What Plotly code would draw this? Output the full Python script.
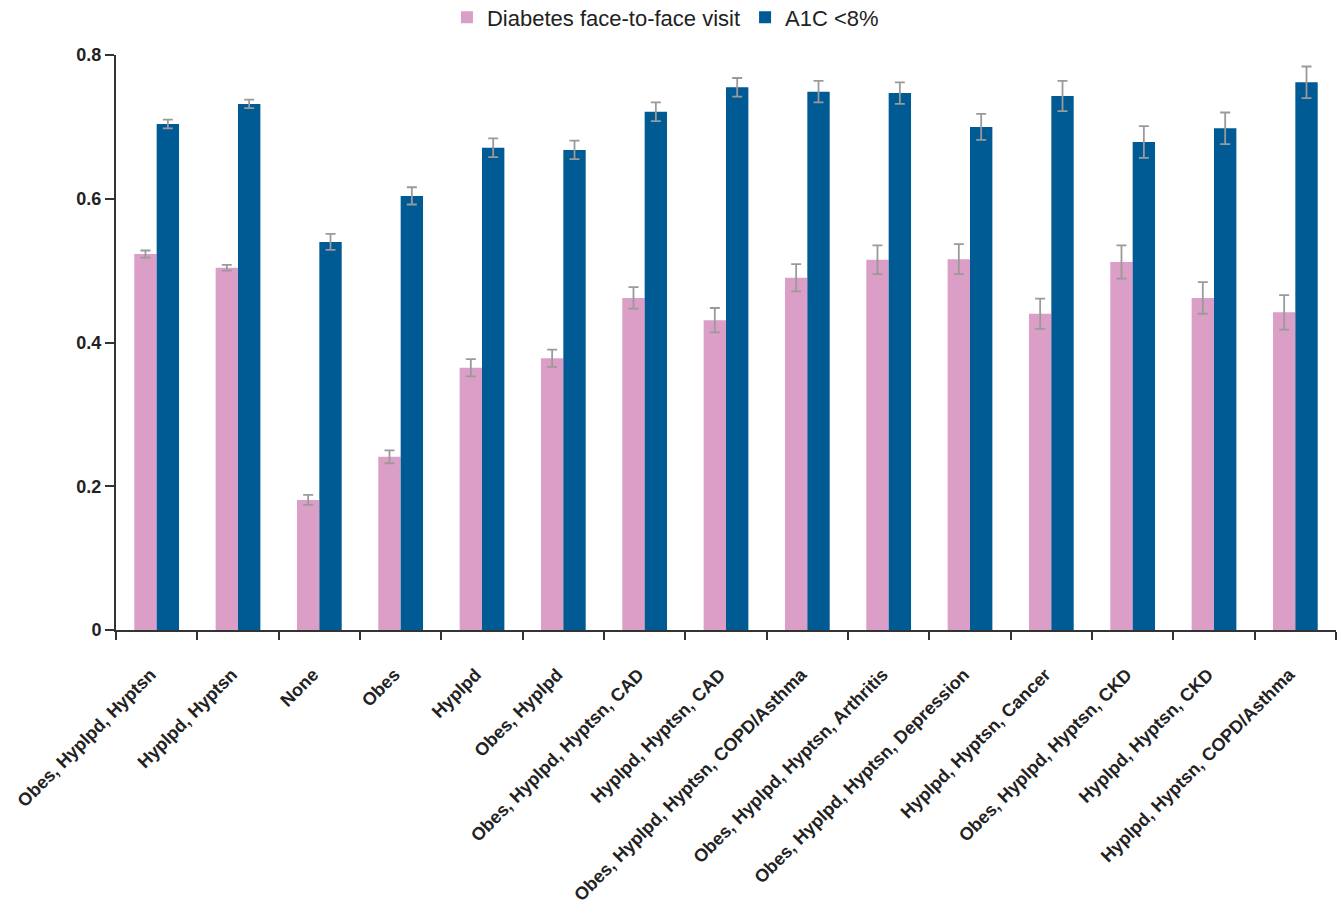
import plotly.graph_objects as go

categories = [
    "Obes, Hyplpd, Hyptsn", "Hyplpd, Hyptsn", "None", "Obes", "Hyplpd",
    "Obes, Hyplpd", "Obes, Hyplpd, Hyptsn, CAD", "Hyplpd, Hyptsn, CAD",
    "Obes, Hyplpd, Hyptsn, COPD/Asthma", "Obes, Hyplpd, Hyptsn, Arthritis",
    "Obes, Hyplpd, Hyptsn, Depression", "Hyplpd, Hyptsn, Cancer",
    "Obes, Hyplpd, Hyptsn, CKD", "Hyplpd, Hyptsn, CKD",
    "Hyplpd, Hyptsn, COPD/Asthma",
]
visit_values = [0.523, 0.504, 0.181, 0.241, 0.365, 0.378, 0.462, 0.431,
                0.490, 0.515, 0.516, 0.440, 0.512, 0.462, 0.442]
visit_err = [0.005, 0.004, 0.007, 0.009, 0.012, 0.012, 0.015, 0.017,
             0.019, 0.020, 0.021, 0.021, 0.023, 0.022, 0.024]
a1c_values = [0.704, 0.732, 0.540, 0.604, 0.671, 0.668, 0.721, 0.755,
              0.749, 0.747, 0.700, 0.743, 0.679, 0.698, 0.762]
a1c_err = [0.006, 0.006, 0.011, 0.012, 0.013, 0.013, 0.013, 0.013,
           0.015, 0.015, 0.018, 0.021, 0.022, 0.022, 0.022]
y_ticks = [0, 0.2, 0.4, 0.6, 0.8]
y_tick_labels = ["0", "0.2", "0.4", "0.6", "0.8"]

FONT = "Liberation Sans, Arial, sans-serif"
err_style = dict(type="data", visible=True, color="#9a9a9a", thickness=1.8, width=5)

fig = go.Figure()
fig.add_trace(go.Bar(
    name="Diabetes face-to-face visit", x=categories, y=visit_values,
    marker=dict(color="#DB9EC6", line=dict(width=0)),
    error_y=dict(array=visit_err, **err_style),
))
fig.add_trace(go.Bar(
    name="A1C <8%", x=categories, y=a1c_values,
    marker=dict(color="#005A93", line=dict(width=0)),
    error_y=dict(array=a1c_err, **err_style),
))

fig.update_layout(
    width=1341, height=913,
    margin=dict(l=116, r=5, t=55, b=283, autoexpand=False),
    paper_bgcolor="white", plot_bgcolor="white",
    barmode="group", bargap=0.45, bargroupgap=0,
    font=dict(family=FONT, color="#222"),
    showlegend=True,
    legend=dict(orientation="h", xref="container", yref="container",
                x=0.3333, xanchor="left", y=0.981, yanchor="middle",
                font=dict(size=22, color="#222", family=FONT), traceorder="normal",
                itemwidth=30, bgcolor="rgba(0,0,0,0)"),
    xaxis=dict(
        showline=True, linecolor="#333", linewidth=2,
        ticks="outside", tickson="boundaries", ticklen=8, tickwidth=2, tickcolor="#333",
        tickangle=-45, ticklabelstandoff=25, ticklabelshift=-6,
        tickfont=dict(size=18, family=FONT, weight="bold", color="#222"),
        showgrid=False, zeroline=False,
    ),
    yaxis=dict(
        range=[0, 0.8], tickvals=y_ticks, ticktext=y_tick_labels,
        showline=True, linecolor="#333", linewidth=2,
        ticks="outside", ticklen=9, tickwidth=2, tickcolor="#333",
        tickfont=dict(size=18, family=FONT, weight="bold", color="#222"),
        showgrid=False, zeroline=False,
    ),
)

fig.write_html("out.html")
